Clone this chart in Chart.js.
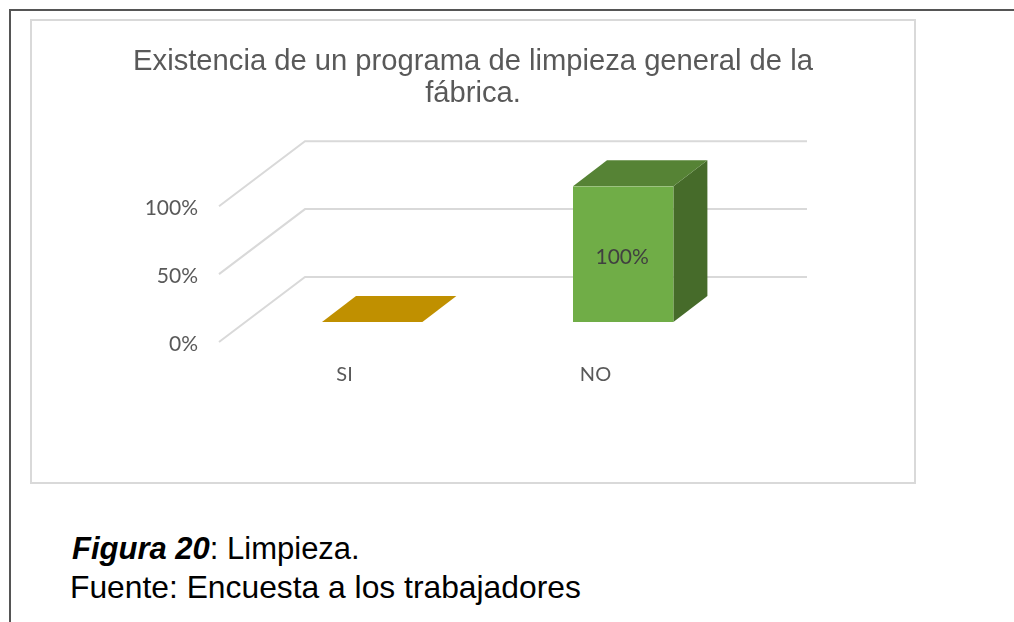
<!DOCTYPE html>
<html lang="es">
<head>
<meta charset="utf-8">
<title>Figura 20</title>
<script src="https://cdn.jsdelivr.net/npm/chart.js@4"></script>
<style>
  html, body { margin:0; padding:0; background:#fff; overflow:hidden; }
  body { width:1014px; height:622px; position:relative; font-family:"Liberation Sans", Arial, sans-serif; }
  .topLine { position:absolute; left:9px; top:9px; right:0; height:2px; background:#555; }
  .leftLine { position:absolute; left:9px; top:9px; bottom:0; width:2px; background:#555; }
  .box { position:absolute; left:30px; top:19px; width:882px; height:461px; border:2px solid #d9d9d9; }
  .box canvas { display:block; }
  .caption { position:absolute; font-size:31.8px; line-height:38px; color:#000; white-space:nowrap; }
</style>
</head>
<body>
<div class="topLine"></div>
<div class="leftLine"></div>
<div class="box"><canvas id="chart" width="882" height="461"></canvas></div>
<div class="caption" style="left:72px;top:530px;font-size:31px"><b><i>Figura 20</i></b>: Limpieza.</div>
<div class="caption" style="left:70px;top:568px">Fuente: Encuesta a los trabajadores</div>

<script>
const categories = ['SI', 'NO'];
const values = [0, 100];
const valueTicks = [0, 50, 100];
const titleLines = ['Existencia de un programa de limpieza general de la', 'fábrica.'];

// colores de cada barra: frente, tapa, lado
const frontColors = ['#ffc000', '#70ad47'];
const topColors = ['#c09000', '#568335'];
const sideColors = ['#8f6c00', '#466b2a'];

const TEXT = '#595959';
const GRID = '#d9d9d9';
const TICK_FONT = {family:'Lato', size:21};
const CAT_FONT = {family:'Lato', size:20};

// perspectiva falsa: desplazamiento del fondo y de la barra
const WALL = {dx:86, dy:-65};
const BAR_OFFSET = {dx:27.7, dy:-20};
const BAR_DEPTH = {dx:34, dy:-26};

function poly(ctx, pts, fill){
  ctx.beginPath();
  pts.forEach((p,i)=> i ? ctx.lineTo(p[0],p[1]) : ctx.moveTo(p[0],p[1]));
  ctx.closePath();
  ctx.fillStyle = fill;
  ctx.fill();
}

const fake3d = {
  id:'fake3d',
  beforeDatasetsDraw(chart){
    const {ctx, chartArea:a, scales:{y}} = chart;
    ctx.save();
    // paredes: linea lateral + linea del fondo para cada tick
    ctx.strokeStyle = GRID;
    ctx.lineWidth = 2;
    y.ticks.forEach(t=>{
      const py = y.getPixelForValue(t.value);
      ctx.beginPath();
      ctx.moveTo(a.left, py);
      ctx.lineTo(a.left+WALL.dx, py+WALL.dy);
      ctx.lineTo(a.right+WALL.dx, py+WALL.dy);
      ctx.stroke();
    });
    // tapa y lado de cada barra
    chart.getDatasetMeta(0).data.forEach((el,i)=>{
      const l = el.x-el.width/2+BAR_OFFSET.dx, r = el.x+el.width/2+BAR_OFFSET.dx;
      const t = el.y+BAR_OFFSET.dy, b = el.base+BAR_OFFSET.dy;
      if(b>t) poly(ctx, [[r,t],[r+BAR_DEPTH.dx,t+BAR_DEPTH.dy],[r+BAR_DEPTH.dx,b+BAR_DEPTH.dy],[r,b]], sideColors[i]);
      poly(ctx, [[l,t],[l+BAR_DEPTH.dx,t+BAR_DEPTH.dy],[r+BAR_DEPTH.dx,t+BAR_DEPTH.dy],[r,t]], topColors[i]);
    });
    ctx.restore();
  },
  beforeDatasetDraw(chart){
    chart.ctx.save();
    chart.ctx.translate(BAR_OFFSET.dx, BAR_OFFSET.dy);
  },
  afterDatasetDraw(chart){
    chart.ctx.restore();
  },
  afterDatasetsDraw(chart){
    const ctx = chart.ctx;
    ctx.save();
    ctx.font = `${TICK_FONT.size}px ${TICK_FONT.family}`;
    ctx.fillStyle = '#404040';
    ctx.textAlign = 'center';
    ctx.textBaseline = 'middle';
    chart.getDatasetMeta(0).data.forEach((el,i)=>{
      if(!values[i]) return; // el 0% no lleva etiqueta
      ctx.fillText(values[i]+'%', el.x+BAR_OFFSET.dx-1, (el.y+el.base)/2+BAR_OFFSET.dy+3);
    });
    ctx.restore();
  }
};

new Chart(document.getElementById('chart').getContext('2d'), {
  type:'bar',
  data:{
    labels:categories,
    datasets:[{data:values, backgroundColor:frontColors, borderWidth:0, categoryPercentage:1, barPercentage:0.4}]
  },
  options:{
    responsive:false,
    animation:false,
    plugins:{
      legend:{display:false},
      tooltip:{enabled:false},
      title:{
        display:true,
        text:titleLines,
        color:TEXT,
        font:{family:'"Liberation Sans"', size:29.2, weight:'normal', lineHeight:1.1},
        padding:{top:25, bottom:96}
      }
    },
    scales:{
      x:{
        grid:{display:false},
        border:{display:false},
        ticks:{color:TEXT, font:CAT_FONT, padding:13, maxRotation:0},
        afterFit(s){ s.height = 140; }
      },
      y:{
        min:0, max:100,
        grid:{display:false},
        border:{display:false},
        afterBuildTicks(s){ s.ticks = valueTicks.map(v=>({value:v})); },
        ticks:{color:TEXT, font:TICK_FONT, padding:13, labelOffset:2, callback:v=>v+'%'},
        afterFit(s){ s.width = 187; }
      },
      // eje vacio a la derecha: reserva el margen sin descentrar el titulo
      r:{
        position:'right',
        display:true,
        grid:{display:false},
        border:{display:false},
        ticks:{display:false},
        afterFit(s){ s.width = 193; }
      }
    }
  },
  plugins:[fake3d]
});
</script>
</body>
</html>
